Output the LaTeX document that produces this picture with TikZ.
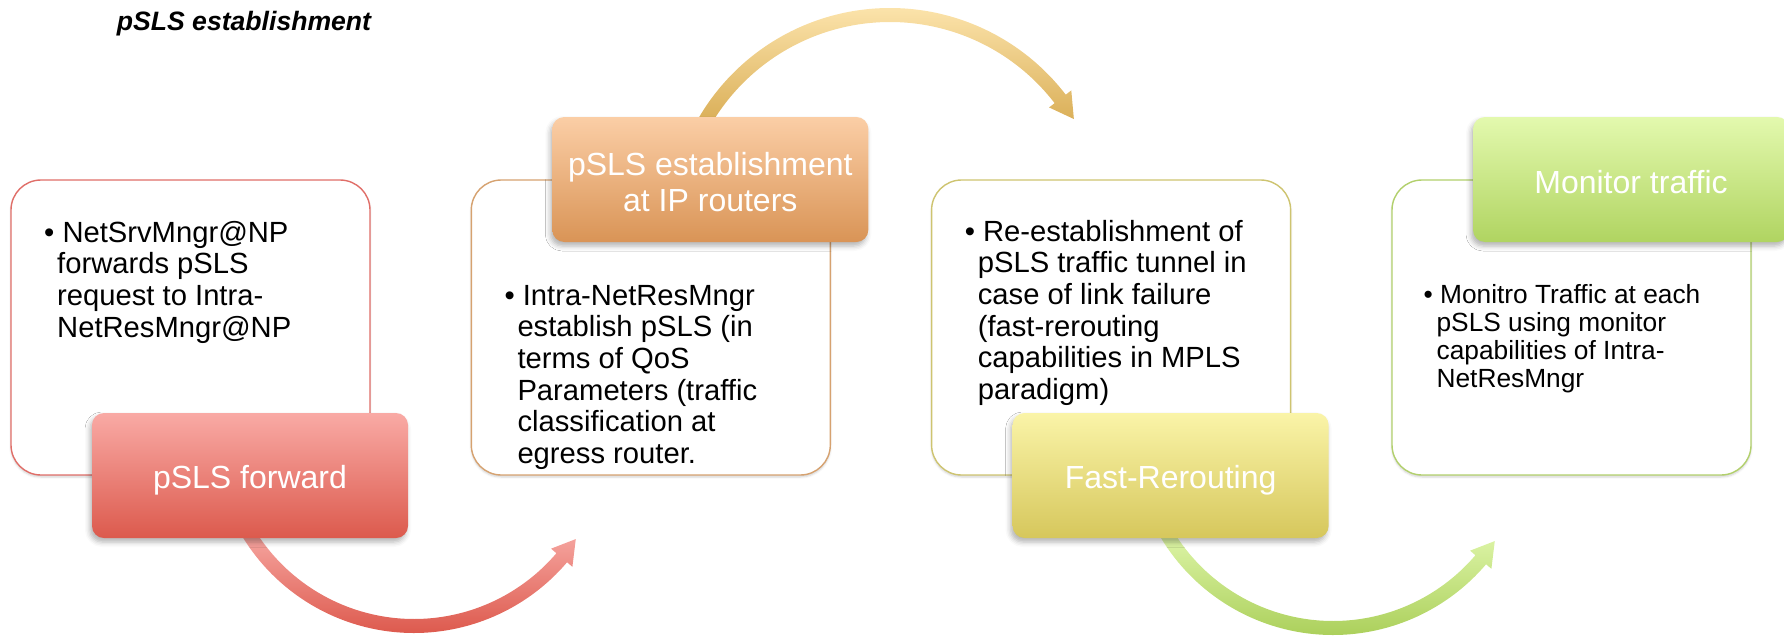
\documentclass[tikz,border=0pt]{standalone}
\usepackage{fontspec}
\setmainfont{Liberation Sans}
\usetikzlibrary{shadows.blur}

% outline colours of the four step boxes
\definecolor{lineA}{RGB}{224,110,104}
\definecolor{lineB}{RGB}{214,162,112}
\definecolor{lineC}{RGB}{206,196,112}
\definecolor{lineD}{RGB}{178,208,108}
% tab gradients (top / bottom)
\definecolor{tabAt}{RGB}{249,170,165}
\definecolor{tabAb}{RGB}{220,90,77}
\definecolor{tabBt}{RGB}{251,206,166}
\definecolor{tabBb}{RGB}{217,148,86}
\definecolor{tabCt}{RGB}{250,244,168}
\definecolor{tabCb}{RGB}{214,199,92}
\definecolor{tabDt}{RGB}{227,249,174}
\definecolor{tabDb}{RGB}{176,212,97}
% curved arrow gradients
\definecolor{arrAt}{RGB}{248,172,167}
\definecolor{arrAb}{RGB}{221,90,78}
\definecolor{arrBt}{RGB}{252,228,172}
\definecolor{arrBb}{RGB}{215,170,80}
\definecolor{arrCt}{RGB}{224,247,172}
\definecolor{arrCb}{RGB}{172,208,92}

\tikzset{
  stepbox/.style={rectangle, rounded corners=30pt, minimum width=359pt,
    minimum height=295pt, fill=white, line width=1.4pt, inner sep=0pt,
    blur shadow={shadow xshift=0pt, shadow yshift=-2pt,
      shadow blur radius=2pt, shadow opacity=18}},
  tab/.style={rectangle, rounded corners=12pt, minimum width=316pt,
    minimum height=125pt, inner sep=0pt,
    blur shadow={shadow xshift=-2pt, shadow yshift=-4pt,
      shadow blur radius=5pt, shadow opacity=30}},
  tabtext/.style={text=white, inner sep=0pt, anchor=base,
    font=\fontsize{32}{36.7}\selectfont},
  body/.style={anchor=base west, inner sep=0pt,
    font=\fontsize{29.2}{31.7}\selectfont},
  smallbody/.style={anchor=base west, inner sep=0pt,
    font=\fontsize{26.3}{28}\selectfont},
}

% thick circular arrow: #1 centre, #2 radius, #3 start angle,
% #4 angle of the head base, #5 angle of the tip, #6/#7 top/bottom colour
\newcommand\cyclearrow[7]{%
  \pgfmathsetmacro\rout{#2+7}%
  \pgfmathsetmacro\rin{#2-7}%
  \pgfmathsetmacro\hout{#2+14}%
  \pgfmathsetmacro\hin{#2-14}%
  \shade[top color=#6, bottom color=#7]
    ([shift={(#3:\rout)}]#1) arc[start angle=#3, end angle=#4, radius=\rout]
    -- ([shift={(#4:\hout)}]#1) -- ([shift={(#5:#2)}]#1)
    -- ([shift={(#4:\hin)}]#1) -- ([shift={(#4:\rin)}]#1)
    arc[start angle=#4, end angle=#3, radius=\rin] -- cycle;}

\newcommand\ind{\hspace*{13pt}}

\begin{document}
\begin{tikzpicture}[x=1pt, y=-1pt]
\useasboundingbox (0,0) rectangle (1784,637);

% title
\node[anchor=base, inner sep=0pt,
  font=\fontsize{26.6}{30}\selectfont\bfseries\itshape] (title) at (244,30)
  {pSLS establishment};

% step boxes
\node[stepbox, draw=lineA] (b1) at (190.5,327.5) {};
\node[stepbox, draw=lineB] (b2) at (650.8,327.5) {};
\node[stepbox, draw=lineC] (b3) at (1111.1,327.5) {};
\node[stepbox, draw=lineD] (b4) at (1571.5,327.5) {};

% centres of the curved arrows
\coordinate (c1) at (414,432);
\coordinate (c2) at (890,229.5);
\coordinate (c3) at (1333,434);

\cyclearrow{c1}{194}{150}{40.4}{33.5}{arrAt}{arrAb}
\cyclearrow{c2}{214.5}{208}{322.5}{329}{arrBt}{arrBb}
\cyclearrow{c3}{194}{150}{40.4}{33.5}{arrCt}{arrCb}

% coloured tabs
\node[tab, top color=tabAt, bottom color=tabAb] (l1) at (250,475.5) {};
\node[tab, top color=tabBt, bottom color=tabBb] (l2) at (710.3,179.5) {};
\node[tab, top color=tabCt, bottom color=tabCb] (l3) at (1170.6,475.5) {};
\node[tab, top color=tabDt, bottom color=tabDb] (l4) at (1631,179.5) {};

\node[tabtext] (l1t) at ([yshift=-12.5pt]l1.center) {pSLS forward};
\node[tabtext] (l2t) at ([yshift=4.5pt]l2.center)
  {\begin{tabular}[t]{@{}c@{}}pSLS establishment\\at IP routers\end{tabular}};
\node[tabtext] (l3t) at ([yshift=-12.5pt]l3.center) {Fast-Rerouting};
\node[tabtext] (l4t) at ([yshift=-13.5pt]l4.center) {Monitor traffic};

% box contents
\node[body] (t1) at (44,242) {\begin{tabular}[t]{@{}l@{}}
  •\ NetSrvMngr@NP\\
  \ind forwards pSLS\\
  \ind request to Intra-\\
  \ind NetResMngr@NP\end{tabular}};

\node[body] (t2) at (504.3,305) {\begin{tabular}[t]{@{}l@{}}
  •\ Intra-NetResMngr\\
  \ind establish pSLS (in\\
  \ind terms of QoS\\
  \ind Parameters (traffic\\
  \ind classification at\\
  \ind egress router.\end{tabular}};

\node[body] (t3) at (964.6,241) {\begin{tabular}[t]{@{}l@{}}
  •\ Re-establishment of\\
  \ind pSLS traffic tunnel in\\
  \ind case of link failure\\
  \ind (fast-rerouting\\
  \ind capabilities in MPLS\\
  \ind paradigm)\end{tabular}};

\node[smallbody] (t4) at (1423.4,303) {\begin{tabular}[t]{@{}l@{}}
  •\ Monitro Traffic at each\\
  \ind pSLS using monitor\\
  \ind capabilities of Intra-\\
  \ind NetResMngr\end{tabular}};
\end{tikzpicture}
\end{document}
